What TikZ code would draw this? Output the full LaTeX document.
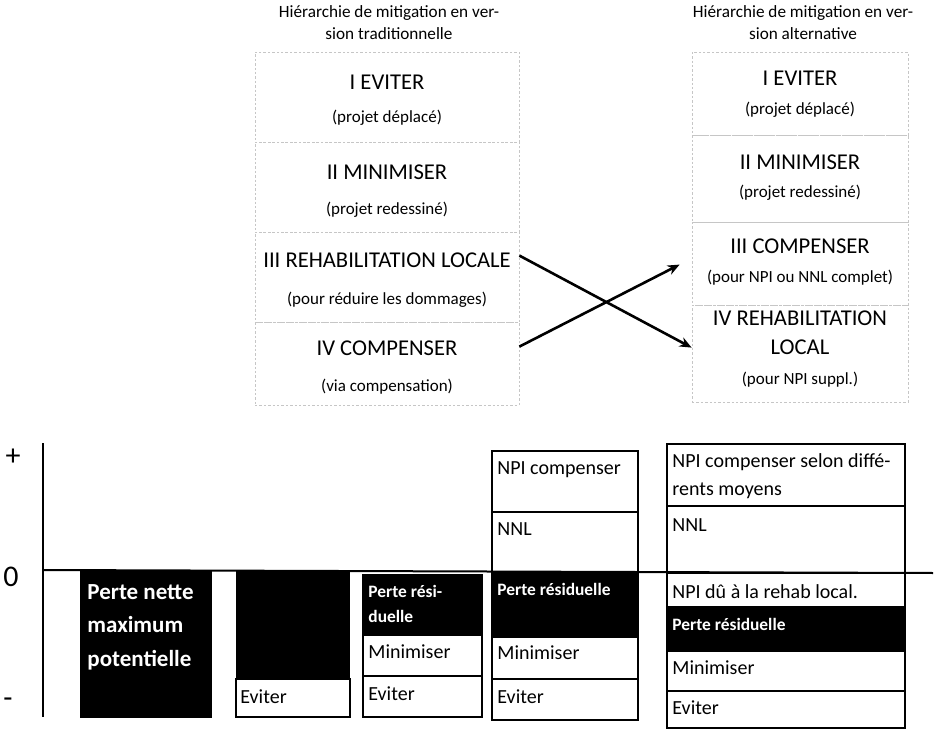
\documentclass[tikz,border=0pt]{standalone}
\usepackage{fontspec}
\setmainfont{Carlito}
\usepackage{tikz}
\usetikzlibrary{arrows.meta, calc}

\tikzset{
  ttltxt/.style={align=center, inner sep=0pt, font=\fontsize{8.6}{11}\selectfont},
  hdtxt/.style={align=center, inner sep=0pt, font=\fontsize{11.3}{14.5}\selectfont},
  subtxt/.style={inner sep=0pt, font=\fontsize{8.5}{10}\selectfont},
  dcell/.style={draw=gray!45, dash pattern=on 1.2pt off 1pt, line width=0.4pt, inner sep=0pt},
  bartxt/.style={anchor=west, inner sep=0pt, font=\fontsize{10}{14}\selectfont},
  perte/.style={inner sep=0pt, text=white, font=\bfseries\fontsize{8.7}{12.5}\selectfont},
  axtxt/.style={inner sep=0pt, font=\fontsize{15}{17}\selectfont},
  arr/.style={line width=1.3pt, -{Stealth[length=6pt, width=5pt]}}
}

\begin{document}
\begin{tikzpicture}[x=0.5pt, y=-0.5pt]
\useasboundingbox (0,0) rectangle (935,731);
% hierarchie traditionnelle
\node[ttltxt, anchor=north] (tl) at (389,5) {Hiérarchie de mitigation en ver-\\sion traditionnelle};
\node[dcell, minimum width=132pt, minimum height=45pt] (l1) at (387,97) {};
\node[dcell, minimum width=132pt, minimum height=45pt] (l2) at (387,187) {};
\node[dcell, minimum width=132pt, minimum height=45pt] (l3) at (387,277) {};
\node[dcell, minimum width=132pt, minimum height=41.5pt] (l4) at (387,363.5) {};
\node[hdtxt] (l1a) at (387,82) {I EVITER};
\node[subtxt] (l1b) at (387,118) {(projet déplacé)};
\node[hdtxt] (l2a) at (387,172) {II MINIMISER};
\node[subtxt] (l2b) at (387,210) {(projet redessiné)};
\node[hdtxt] (l3a) at (387,260) {III REHABILITATION LOCALE};
\node[subtxt] (l3b) at (387,300) {(pour réduire les dommages)};
\node[hdtxt] (l4a) at (387,348) {IV COMPENSER};
\node[subtxt] (l4b) at (387,387) {(via compensation)};
% hierarchie alternative
\node[ttltxt, anchor=north] (tr) at (803,5) {Hiérarchie de mitigation en ver-\\sion alternative};
\node[dcell, minimum width=108pt, minimum height=41.5pt] (r1) at (800,93.5) {};
\node[dcell, minimum width=108pt, minimum height=43.5pt] (r2) at (800,178.5) {};
\node[dcell, minimum width=108pt, minimum height=41.5pt] (r3) at (800,263.5) {};
\node[dcell, minimum width=108pt, minimum height=48.5pt] (r4) at (800,353.5) {};
\node[hdtxt] (r1a) at (800,78) {I EVITER};
\node[subtxt] (r1b) at (800,110) {(projet déplacé)};
\node[hdtxt] (r2a) at (800,162) {II MINIMISER};
\node[subtxt] (r2b) at (800,193) {(projet redessiné)};
\node[hdtxt] (r3a) at (800,246) {III COMPENSER};
\node[subtxt] (r3b) at (800,278) {(pour NPI ou NNL complet)};
\node[hdtxt] (r4a) at (800,332.5) {IV REHABILITATION\\LOCAL};
\node[subtxt] (r4b) at (800,380) {(pour NPI suppl.)};
% fleches croisees
\draw[arr] ([yshift=-12pt]l3.north east) -- ([yshift=-21.5pt]r4.north west);
\draw[arr] ([yshift=-12.5pt]l4.north east) -- ([xshift=-6pt, yshift=-21.5pt]r3.north west);
% axe
\draw[line width=1pt] (43,443) -- (43,717);
\node[axtxt] (plus) at (13,457) {+};
\node[axtxt] (zero) at (11,577) {0};
\node[axtxt] (moins) at (8,703) {-};
% barre 1
\fill (80,571) rectangle (212,718);
\node[inner sep=0pt, anchor=north west, align=left, text=white, font=\bfseries\fontsize{11.5}{16.7}\selectfont] (b1) at (87,584) {Perte nette\\maximum\\potentielle};
% barre 2
\fill (236,571) rectangle (350,679);
\draw[line width=0.65pt] (236,679) rectangle (350,717);
\node[bartxt] (b2e) at (240,697) {Eviter};
% barre 3
\filldraw[line width=0.65pt] (363,575) rectangle (482,635);
\draw[line width=0.65pt] (363,635) rectangle (482,676) (363,676) rectangle (482,717);
\node[perte, anchor=north west, align=left] (b3p) at (368,585) {Perte rési-\\duelle};
\node[bartxt] (b3m) at (368,652) {Minimiser};
\node[bartxt] (b3e) at (368,694) {Eviter};
% barre 4
\draw[line width=0.65pt] (492,451) rectangle (638,512) (492,512) rectangle (638,572);
\filldraw[line width=0.65pt] (492,572) rectangle (638,637);
\draw[line width=0.65pt] (492,637) rectangle (638,679) (492,679) rectangle (638,720);
\node[bartxt] (b4c) at (497,470) {NPI compenser};
\node[bartxt] (b4n) at (497,529) {NNL};
\node[perte, anchor=west] (b4p) at (497,589) {Perte résiduelle};
\node[bartxt] (b4m) at (497,653) {Minimiser};
\node[bartxt] (b4e) at (497,697) {Eviter};
% barre 5
\draw[line width=0.65pt] (667,444) rectangle (905,506) (667,506) rectangle (905,573) (667,573) rectangle (905,607);
\filldraw[line width=0.65pt] (667,607) rectangle (905,651);
\draw[line width=0.65pt] (667,651) rectangle (905,691) (667,691) rectangle (905,728);
\node[bartxt, anchor=north west, align=left] (b5c) at (672,453) {NPI compenser selon diffé-\\rents moyens};
\node[bartxt] (b5n) at (672,525) {NNL};
\node[bartxt] (b5d) at (672,592) {NPI dû à la rehab local.};
\node[perte, anchor=west] (b5p) at (672,624) {Perte résiduelle};
\node[bartxt] (b5m) at (672,668) {Minimiser};
\node[bartxt] (b5e) at (672,708) {Eviter};
% ligne zero
\draw[line width=1pt] (43,570) -- (933,573);
\end{tikzpicture}
\end{document}
